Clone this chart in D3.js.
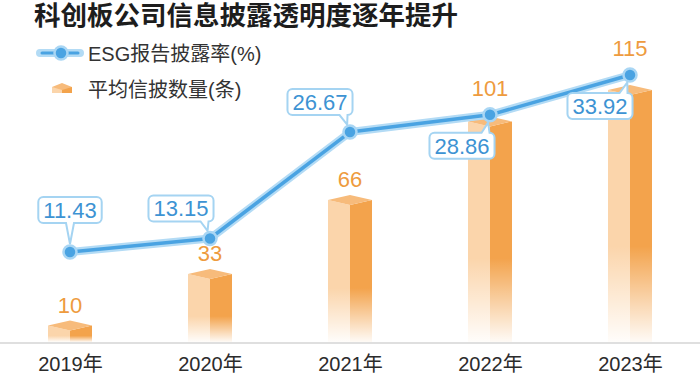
<!DOCTYPE html>
<html>
<head>
<meta charset="utf-8">
<script src="https://cdn.jsdelivr.net/npm/d3@7"></script>
<style>
  body { margin: 0; background: #fff; }
  svg { display: block; }
</style>
</head>
<body>
<div id="chart"></div>
<script>
// Data
const years = ["2019年", "2020年", "2021年", "2022年", "2023年"];
const esgRate = [11.43, 13.15, 26.67, 28.86, 33.92];
const avgCount = [10, 33, 66, 101, 115];
const esgLabels = ["11.43", "13.15", "26.67", "28.86", "33.92"];

// Callout placement relative to each point (layout only)
const calloutShift = [[0, -42], [-29, -30], [-30, -30], [-28, 31], [-30, 31]];

const width = 700;
const height = 374;
const baseY = 342;
const halfBar = 22;
const roof = 5;

const cjk = "'Noto Sans CJK SC', 'Noto Sans', sans-serif";
const latin = "'Liberation Sans', Arial, sans-serif";
const mixed = "'Liberation Sans', 'Noto Sans CJK SC', sans-serif";

const svg = d3.select("#chart").append("svg")
    .attr("width", width)
    .attr("height", height);

const defs = svg.append("defs");
const fade = defs.append("linearGradient")
    .attr("id", "fade")
    .attr("x1", 0).attr("y1", 0).attr("x2", 0).attr("y2", 1);
fade.append("stop").attr("offset", 0).attr("stop-color", "#fff").attr("stop-opacity", 0);
fade.append("stop").attr("offset", 1).attr("stop-color", "#fff").attr("stop-opacity", 0.95);

// Scales
const x = d3.scalePoint()
    .domain(years)
    .range([0, width])
    .padding(0.5);

const yBar = d3.scaleLinear()
    .domain([0, 115])
    .range([348, 90]);

const yLine = d3.scaleLinear()
    .domain([0, 33.92])
    .range([baseY, 75]);

// Title
svg.append("text")
    .attr("x", 34)
    .attr("y", 25)
    .attr("font-family", cjk)
    .attr("font-weight", "bold")
    .attr("font-size", 26.5)
    .attr("fill", "#1d1d1d")
    .text("科创板公司信息披露透明度逐年提升");

// Legend
const leg = svg.append("g");
leg.append("line").attr("x1", 40).attr("x2", 80).attr("y1", 53).attr("y2", 53)
    .attr("stroke", "#b3dbf5").attr("stroke-width", 8).attr("stroke-linecap", "round");
leg.append("line").attr("x1", 42).attr("x2", 78).attr("y1", 53).attr("y2", 53)
    .attr("stroke", "#4aa3e2").attr("stroke-width", 3).attr("stroke-linecap", "round");
leg.append("circle").attr("cx", 61).attr("cy", 53).attr("r", 6.5)
    .attr("fill", "#4aa3e2").attr("stroke", "#a9d6f4").attr("stroke-width", 2.5);
leg.append("text").attr("x", 88).attr("y", 61)
    .attr("font-family", mixed).attr("font-size", 20).attr("fill", "#333")
    .text("ESG报告披露率(%)");

function boxPaths(g, cx, top, hw, rf) {
    g.append("path")
        .attr("d", `M${cx - hw},${top}L${cx},${top + rf}L${cx},${baseY}L${cx - hw},${baseY}Z`)
        .attr("fill", "#fbd5ab");
    g.append("path")
        .attr("d", `M${cx},${top + rf}L${cx + hw},${top}L${cx + hw},${baseY}L${cx},${baseY}Z`)
        .attr("fill", "#f3a34c");
    g.append("path")
        .attr("d", `M${cx - hw},${top}L${cx},${top - rf}L${cx + hw},${top}L${cx},${top + rf}Z`)
        .attr("fill", "#f7bb7b");
}

// legend box icon
const li = leg.append("g");
li.append("path").attr("d", "M52,87L62,83L72,87L72,93L52,93Z").attr("fill", "#f7bb7b");
li.append("path").attr("d", "M52,87L62,90L62,93L52,93Z").attr("fill", "#fbd5ab");
li.append("path").attr("d", "M62,90L72,87L72,93L62,93Z").attr("fill", "#f3a34c");
leg.append("text").attr("x", 88).attr("y", 97)
    .attr("font-family", mixed).attr("font-size", 20).attr("fill", "#333")
    .text("平均信披数量(条)");

// Baseline
svg.append("line")
    .attr("x1", 0).attr("x2", width)
    .attr("y1", baseY + 1).attr("y2", baseY + 1)
    .attr("stroke", "#d4d4d4").attr("stroke-width", 1.5);

// X axis labels
const gx = svg.append("g")
    .attr("transform", `translate(0,${baseY})`)
    .call(d3.axisBottom(x).tickSize(0).tickPadding(15));
gx.select(".domain").remove();
gx.selectAll("text")
    .attr("font-family", mixed)
    .attr("font-size", 20)
    .attr("fill", "#2b2b2b");

// Bars (3D boxes)
const bars = svg.append("g");
years.forEach((yr, i) => {
    const cx = x(yr);
    const top = yBar(avgCount[i]);
    const g = bars.append("g");
    boxPaths(g, cx, top, halfBar, roof);
    const h = baseY - top;
    g.append("rect")
        .attr("x", cx - halfBar - 1)
        .attr("y", baseY - h * 0.38)
        .attr("width", halfBar * 2 + 2)
        .attr("height", h * 0.38)
        .attr("fill", "url(#fade)");
});

// Bar labels
years.forEach((yr, i) => {
    const cx = x(yr);
    const top = yBar(avgCount[i]) - roof;
    const py = yLine(esgRate[i]);
    const ly = py > top - 20 ? py - 19 : top - 8;
    svg.append("text")
        .attr("x", cx)
        .attr("y", ly)
        .attr("text-anchor", "middle")
        .attr("font-family", latin)
        .attr("font-size", 22)
        .attr("fill", "#ee9b3e")
        .text(avgCount[i]);
});

// Line
const line = d3.line()
    .x((d, i) => x(years[i]))
    .y(d => yLine(d));

svg.append("path")
    .datum(esgRate)
    .attr("d", line)
    .attr("fill", "none")
    .attr("stroke", "#b3dbf5")
    .attr("stroke-width", 8)
    .attr("stroke-linejoin", "round");
svg.append("path")
    .datum(esgRate)
    .attr("d", line)
    .attr("fill", "none")
    .attr("stroke", "#4aa3e2")
    .attr("stroke-width", 3.5)
    .attr("stroke-linejoin", "round");

svg.selectAll("circle.pt")
    .data(esgRate)
    .enter()
    .append("circle")
    .attr("class", "pt")
    .attr("cx", (d, i) => x(years[i]))
    .attr("cy", d => yLine(d))
    .attr("r", 6.5)
    .attr("fill", "#4aa3e2")
    .attr("stroke", "#a9d6f4")
    .attr("stroke-width", 2.5);

// Callouts
function calloutPath(x0, y0, x1, y1, px, py, r) {
    const w = 4;
    const bx = Math.max(x0 + r + w, Math.min(x1 - r - w, px));
    const below = py > y1;
    const edgeY = below ? y1 : y0;
    const dx = bx - px, dy = edgeY - py;
    const len = Math.hypot(dx, dy);
    const tx = px + dx / len * 8, ty = py + dy / len * 8;
    let p = `M${x0 + r},${y0}`;
    if (!below) p += `H${bx - w}L${tx},${ty}L${bx + w},${y0}`;
    p += `H${x1 - r}A${r},${r} 0 0 1 ${x1},${y0 + r}V${y1 - r}A${r},${r} 0 0 1 ${x1 - r},${y1}`;
    if (below) p += `H${bx + w}L${tx},${ty}L${bx - w},${y1}`;
    p += `H${x0 + r}A${r},${r} 0 0 1 ${x0},${y1 - r}V${y0 + r}A${r},${r} 0 0 1 ${x0 + r},${y0}Z`;
    return p;
}

esgRate.forEach((v, i) => {
    const px = x(years[i]);
    const py = yLine(v);
    const cx = px + calloutShift[i][0];
    const cy = py + calloutShift[i][1];
    const t = svg.append("text")
        .attr("x", cx)
        .attr("y", cy + 8)
        .attr("text-anchor", "middle")
        .attr("font-family", latin)
        .attr("font-size", 22)
        .attr("fill", "#3d93d3")
        .text(esgLabels[i]);
    const bw = t.node().getComputedTextLength() + 10;
    const bh = 26;
    svg.insert("path", () => t.node())
        .attr("d", calloutPath(cx - bw / 2, cy - bh / 2, cx + bw / 2, cy + bh / 2, px, py, 5))
        .attr("fill", "#fff")
        .attr("stroke", "#a5d4f2")
        .attr("stroke-width", 2);
});
</script>
</body>
</html>
